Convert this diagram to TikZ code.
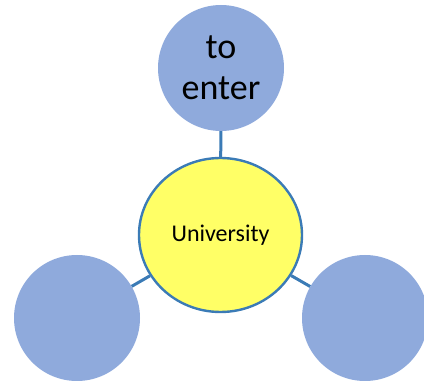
\documentclass[tikz,border=0pt]{standalone}
\usepackage{fontspec}
\setmainfont{Carlito}
\usetikzlibrary{shapes.geometric}
\definecolor{satfill}{HTML}{8FAADC}
\definecolor{linkblue}{HTML}{3B7BB6}
\definecolor{hubfill}{HTML}{FFFF66}
\begin{document}
\begin{tikzpicture}[x=1pt,y=-1pt,
  sat/.style={circle,fill=satfill,minimum size=126pt,inner sep=0pt,align=center,font=\fontsize{36}{41}\selectfont},
  hub/.style={ellipse,draw=linkblue,line width=2.4pt,fill=hubfill,minimum width=163pt,minimum height=154pt,inner sep=0pt,font=\fontsize{24}{28}\selectfont},
  link/.style={draw=linkblue,line width=3pt}]
\useasboundingbox (0,0) rectangle (424,382);
\node[hub] (c) at (220.5,235) {University};
\node[sat] (t) at (221,68) {to\\enter};
\node[sat] (l) at (77,318) {};
\node[sat] (r) at (365,318) {};
\draw[link] (t) -- (c);
\draw[link] (l) -- (c);
\draw[link] (r) -- (c);
\end{tikzpicture}
\end{document}
